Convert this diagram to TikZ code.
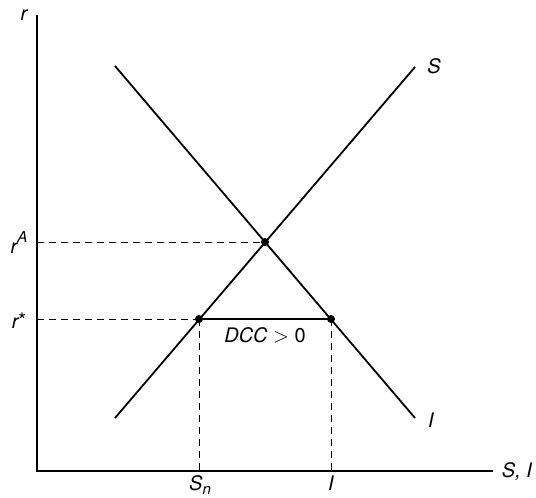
\documentclass[tikz,border=0pt]{standalone}
\usepackage{fontspec}
\setmainfont{TeX Gyre Heros}
\begin{document}
\begin{tikzpicture}[x=1pt,y=-1pt,
  axis/.style={line width=2pt},
  curve/.style={line width=1.8pt},
  guide/.style={line width=0.9pt,dash pattern=on 7pt off 5pt},
  dot/.style={circle,fill=black,inner sep=0pt,minimum size=8pt},
  lbl/.style={inner sep=0pt,anchor=base,font=\fontsize{20}{24}\selectfont\itshape}]
\useasboundingbox (0,0) rectangle (536,498);
% axes
\coordinate (O) at (37,471);
\coordinate (ytop) at (37,15);
\coordinate (xend) at (493,471);
\draw[axis] (ytop) -- (O) -- (xend);
% curves
\coordinate (S0) at (115,418);
\coordinate (S1) at (415,67);
\coordinate (I0) at (115,66);
\coordinate (I1) at (415,418);
\draw[curve] (S0) -- (S1);
\draw[curve] (I0) -- (I1);
% points
\node[dot] (A) at (265,242) {};
\node[dot] (Sn) at (199,319) {};
\node[dot] (In) at (331,319) {};
\coordinate (yA) at (37,242);
\coordinate (ys) at (37,319);
\coordinate (xSn) at (199,471);
\coordinate (xIn) at (331,471);
\draw[guide] (yA) -- (A.center);
\draw[guide] (ys) -- (Sn.center);
\draw[guide] (Sn.center) -- (xSn);
\draw[guide] (In.center) -- (xIn);
\draw[line width=1.1pt] (Sn.center) -- (In.center);
% labels
\node[lbl] (lr) at (24,20) {r};
\node[lbl] (lrA) at (19,253) {r\raisebox{0.55em}{\fontsize{15}{15}\selectfont A}};
\node[lbl] (lrs) at (19,328) {r\raisebox{0.05em}{\upshape *}};
\node[lbl] (lS) at (434,73) {S};
\node[lbl] (lI) at (431,427) {I};
\node[lbl] (lSI) at (517,477) {S, I};
\node[lbl] (lSn) at (200,490) {S\raisebox{-0.22em}{\fontsize{15}{15}\selectfont n}};
\node[lbl] (lIn) at (331,490) {I};
\node[lbl] (lD) at (265,342) {DCC \upshape$>$ 0};
\end{tikzpicture}
\end{document}
